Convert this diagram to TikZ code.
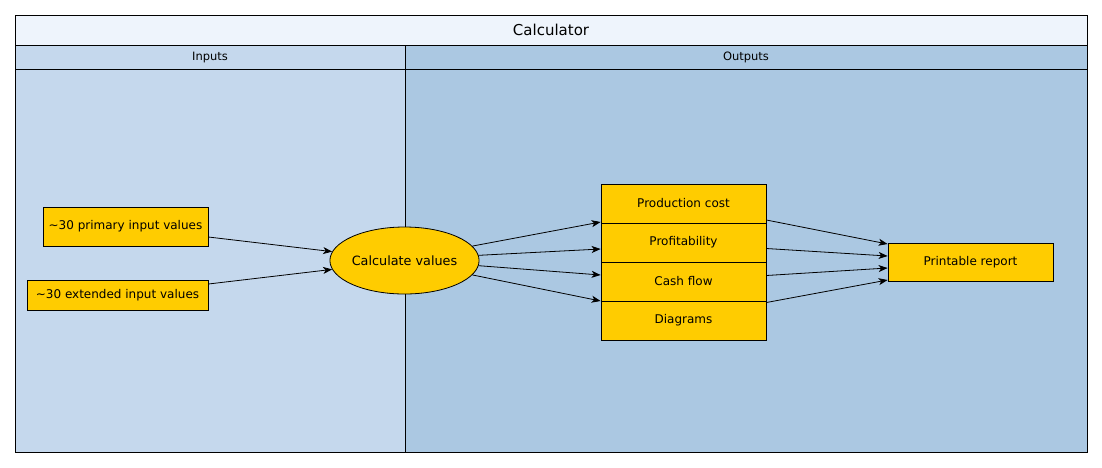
\documentclass[tikz,border=0pt]{standalone}
\usepackage{fontspec}
\setmainfont{DejaVu Sans}
\usetikzlibrary{arrows.meta, shapes.geometric}
\definecolor{titlefill}{RGB}{238,244,252}
\definecolor{infill}{RGB}{197,216,237}
\definecolor{outfill}{RGB}{171,200,226}
\definecolor{valfill}{RGB}{255,204,0}
\tikzset{
    valbox/.style={draw, fill=valfill, inner sep=0pt, minimum height=39pt, font=\fontsize{12}{14}\selectfont},
    flow/.style={-{Stealth[length=9pt, width=7pt, inset=2.5pt]}, line width=0.8pt}
}

\begin{document}
\begin{tikzpicture}[x=1pt, y=-1pt, line width=0.8pt]
    \useasboundingbox (0,0) rectangle (1102,467);
    \fill [white] (0,0) rectangle (1102,467);
    \draw [fill=titlefill] (15,15) rectangle (1087,45);
    \draw [fill=infill] (15,45) rectangle (405,452);
    \draw [fill=outfill] (405,45) rectangle (1087,452);
    \draw (15,69) -- (1087,69);
    \node (title) at (551,30) {\fontsize{15}{18}\selectfont Calculator};
    \node (inputs) at (210,57) {\fontsize{11.5}{14}\selectfont Inputs};
    \node (outputs) at (746,57) {\fontsize{11.5}{14}\selectfont Outputs};
    \node (prim) at (125.5,226.5) [valbox, minimum width=165pt] {\textasciitilde30 primary input values};
    \node (ext) at (117.5,295) [valbox, minimum width=181pt, minimum height=30pt] {\textasciitilde30 extended input values};
    \node (calc) at (404.5,260.5) [ellipse, draw, fill=valfill, inner sep=0pt, minimum width=149pt, minimum height=67pt, font=\fontsize{12.8}{15}\selectfont] {Calculate values};
    \node (cost) at (683.5,203.5) [valbox, minimum width=165pt] {Production cost};
    \node (profit) at (683.5,242.5) [valbox, minimum width=165pt] {Profitability};
    \node (cash) at (683.5,281.5) [valbox, minimum width=165pt] {Cash flow};
    \node (diag) at (683.5,320.5) [valbox, minimum width=165pt] {Diagrams};
    \node (report) at (970.5,262) [valbox, minimum width=165pt, minimum height=38pt] {Printable report};
    \draw [flow] ([yshift=-10.5pt]prim.east) -- (calc.173);
    \draw [flow] ([yshift=11pt]ext.east) -- (calc.187);
    \draw [flow] (calc.12) -- ([yshift=-18.5pt]cost.west);
    \draw [flow] (calc.4) -- ([yshift=-6.5pt]profit.west);
    \draw [flow] (calc.356) -- ([yshift=6.5pt]cash.west);
    \draw [flow] (calc.348) -- ([yshift=19.5pt]diag.west);
    \draw [flow] ([yshift=-16.5pt]cost.east) -- ([yshift=18pt]report.west);
    \draw [flow] ([yshift=-6pt]profit.east) -- ([yshift=6pt]report.west);
    \draw [flow] ([yshift=6pt]cash.east) -- ([yshift=-6pt]report.west);
    \draw [flow] ([yshift=18pt]diag.east) -- ([yshift=-18pt]report.west);
\end{tikzpicture}
\end{document}
